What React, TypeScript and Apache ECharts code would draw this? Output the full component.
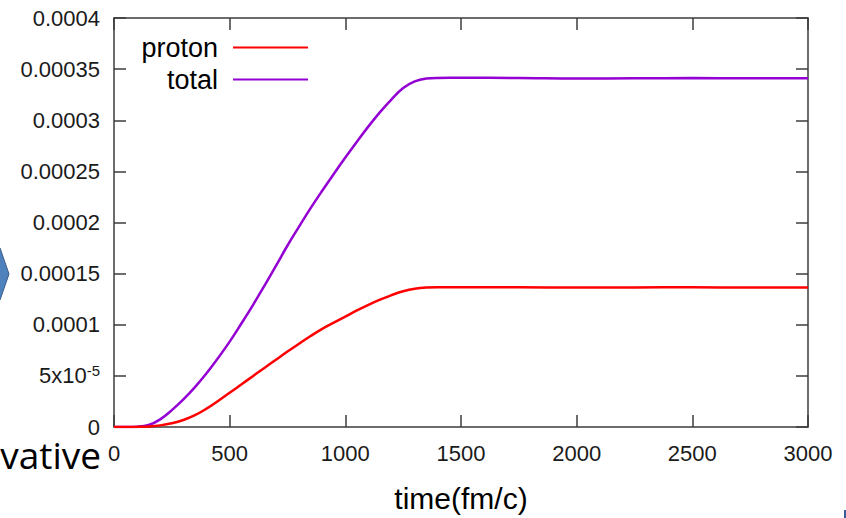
import React, { useEffect, useRef } from "react";
import * as echarts from "echarts";

const timeValues = [0, 50, 100, 150, 200, 250, 300, 350, 400, 450, 500, 550, 600, 650, 700, 750, 800, 850, 900, 950, 1000, 1050, 1100, 1150, 1200, 1250, 1300, 1350, 1400, 1500, 1750, 2000, 2250, 2500, 2750, 3000];

const protonValues = [0, 0, 0.1e-6, 0.5e-6, 1.6e-6, 3.6e-6, 6.8e-6, 1.15e-5, 1.8e-5, 2.55e-5, 3.35e-5, 4.15e-5, 4.97e-5, 5.78e-5, 6.58e-5, 7.38e-5, 8.15e-5, 8.9e-5, 9.6e-5, 1.02e-4, 1.08e-4, 1.14e-4, 1.195e-4, 1.245e-4, 1.29e-4, 1.327e-4, 1.352e-4, 1.364e-4, 1.367e-4, 1.366e-4, 1.366e-4, 1.364e-4, 1.365e-4, 1.366e-4, 1.365e-4, 1.365e-4];

const totalValues = [0, 0, 0.3e-6, 2e-6, 7.5e-6, 1.65e-5, 2.7e-5, 3.9e-5, 5.25e-5, 6.75e-5, 8.35e-5, 1.01e-4, 1.19e-4, 1.38e-4, 1.575e-4, 1.775e-4, 1.96e-4, 2.14e-4, 2.31e-4, 2.475e-4, 2.635e-4, 2.79e-4, 2.94e-4, 3.08e-4, 3.205e-4, 3.315e-4, 3.38e-4, 3.408e-4, 3.414e-4, 3.415e-4, 3.413e-4, 3.408e-4, 3.41e-4, 3.412e-4, 3.41e-4, 3.41e-4];

const seriesNames = ["proton", "total"];
const seriesColors = ["#ff0000", "#9400d3"];

const xTickLabels = ["0", "500", "1000", "1500", "2000", "2500", "3000"];
const yTickLabels = ["0", "5x10{sup|-5}", "0.0001", "0.00015", "0.0002", "0.00025", "0.0003", "0.00035", "0.0004"];
const xAxisTitle = "time(fm/c)";
const sideText = "vative";

const FONT = "'Liberation Sans', Arial, sans-serif";
const AXIS_COLOR = "#3c3c3c";

export default function App() {
  const ref = useRef<HTMLDivElement>(null);

  useEffect(() => {
    if (!ref.current) return;
    const chart = echarts.init(ref.current, null, { renderer: "svg" });

    const tickStyle = { show: true, inside: true, length: 12, lineStyle: { color: AXIS_COLOR, width: 1.5 } };
    const lineStyle = { show: true, onZero: false, lineStyle: { color: AXIS_COLOR, width: 1.5 } };

    const mk = (vals: number[]) => timeValues.map((t, i) => [t, vals[i]]);

    chart.setOption({
      animation: false,
      backgroundColor: "#ffffff",
      textStyle: { fontFamily: FONT },
      grid: { left: 114, right: 38, top: 18, bottom: 87, containLabel: false },
      legend: {
        orient: "vertical",
        left: 123,
        top: 29,
        align: "right",
        itemWidth: 75,
        itemHeight: 2,
        itemGap: 5,
        icon: "rect",
        data: seriesNames.map((n, i) => ({ name: n, itemStyle: { color: seriesColors[i] } })),
        formatter: "{a|{name}}{s|}",
        textStyle: {
          fontFamily: FONT,
          fontSize: 27,
          color: "#000",
          rich: {
            a: { fontFamily: FONT, fontSize: 27, color: "#000", width: 90, align: "right", lineHeight: 26 },
            s: { width: 10 },
          },
        },
      },
      xAxis: [
        {
          type: "value",
          min: 0,
          max: 3000,
          interval: 500,
          position: "bottom",
          axisLine: lineStyle,
          axisTick: tickStyle,
          splitLine: { show: false },
          axisLabel: {
            fontFamily: FONT,
            fontSize: 22,
            color: "#1a1a1a",
            margin: 15,
            formatter: (v: number) => xTickLabels[Math.round(v / 500)] ?? "",
          },
          name: xAxisTitle,
          nameLocation: "middle",
          nameGap: 56,
          nameTextStyle: { fontFamily: FONT, fontSize: 30, color: "#000" },
        },
        {
          type: "value",
          min: 0,
          max: 3000,
          interval: 500,
          position: "top",
          axisLine: lineStyle,
          axisTick: tickStyle,
          splitLine: { show: false },
          axisLabel: { show: false },
        },
      ],
      yAxis: [
        {
          type: "value",
          min: 0,
          max: 0.0004,
          interval: 0.00005,
          position: "left",
          axisLine: lineStyle,
          axisTick: tickStyle,
          splitLine: { show: false },
          axisLabel: {
            fontFamily: FONT,
            fontSize: 22,
            color: "#1a1a1a",
            margin: 14,
            formatter: (v: number) => yTickLabels[Math.round(v / 0.00005)] ?? "",
            rich: {
              sup: { fontFamily: FONT, fontSize: 15, color: "#1a1a1a", verticalAlign: "top", padding: [0, 0, 10, 0] },
            },
          },
        },
        {
          type: "value",
          min: 0,
          max: 0.0004,
          interval: 0.00005,
          position: "right",
          axisLine: lineStyle,
          axisTick: tickStyle,
          splitLine: { show: false },
          axisLabel: { show: false },
        },
      ],
      series: [
        {
          name: seriesNames[0],
          type: "line",
          data: mk(protonValues),
          showSymbol: false,
          symbol: "none",
          smooth: 0.4,
          lineStyle: { color: seriesColors[0], width: 2.5 },
          itemStyle: { color: seriesColors[0] },
          z: 3,
        },
        {
          name: seriesNames[1],
          type: "line",
          data: mk(totalValues),
          showSymbol: false,
          symbol: "none",
          smooth: 0.4,
          lineStyle: { color: seriesColors[1], width: 2.5 },
          itemStyle: { color: seriesColors[1] },
          z: 2,
        },
      ],
      graphic: [
        {
          type: "polygon",
          shape: { points: [[-20, 248], [0, 248], [9, 274], [0, 300], [-20, 300]] },
          style: { fill: "#4f81bd", stroke: "#385d8a", lineWidth: 1 },
          z: 10,
        },
        {
          type: "text",
          x: 101,
          y: 436,
          style: {
            text: sideText,
            fontFamily: "'Open Sans', 'Noto Sans', sans-serif",
            fontSize: 37,
            fill: "#000",
            align: "right",
            verticalAlign: "alphabetic",
          },
          z: 10,
        },
        {
          type: "rect",
          shape: { x: 844, y: 510, width: 2, height: 8 },
          style: { fill: "#3a5a9a" },
          z: 10,
        },
      ],
    });

    return () => chart.dispose();
  }, []);

  return <div ref={ref} style={{ position: "fixed", left: 0, top: 0, width: 846, height: 518 }} />;
}
